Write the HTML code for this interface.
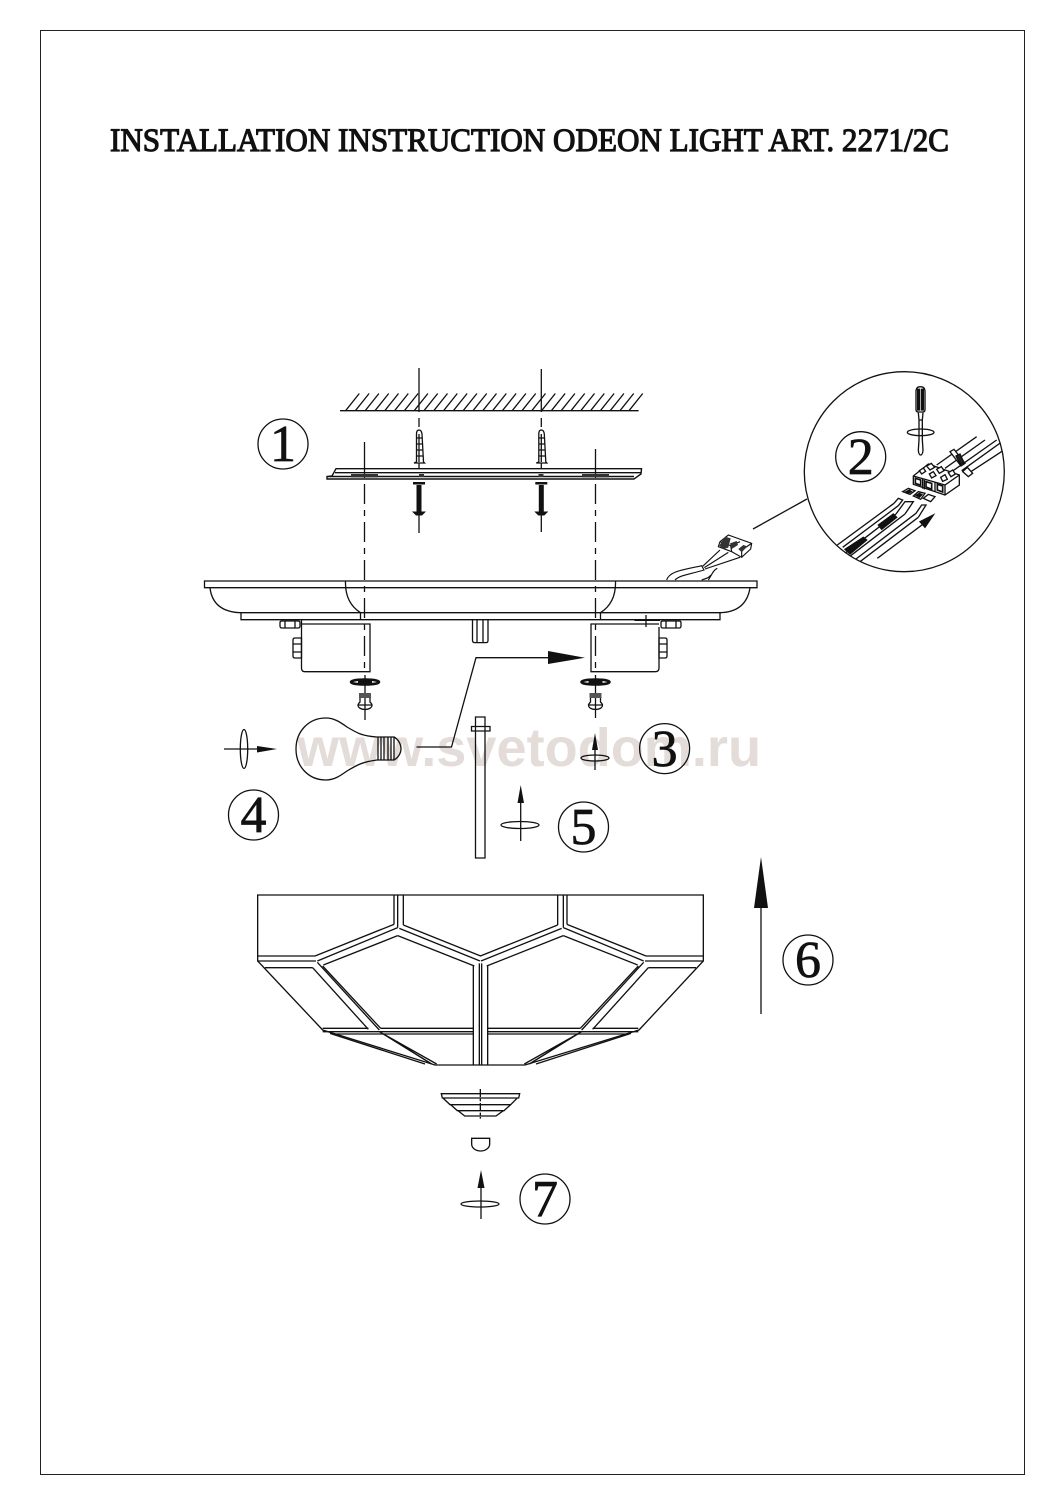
<!DOCTYPE html>
<html><head><meta charset="utf-8"><style>
html,body{margin:0;padding:0;background:#fff}
svg{display:block}
.l{fill:none;stroke:#111;stroke-width:1.3}
.n{font:52px "Liberation Serif",serif;fill:#111;stroke:#111;stroke-width:.7;text-anchor:middle}
</style></head><body>
<svg width="1061" height="1500" viewBox="0 0 1061 1500" xmlns="http://www.w3.org/2000/svg">
<defs><clipPath id="c"><circle cx="904.3" cy="471.7" r="100"/></clipPath></defs>
<rect x="40.5" y="30.5" width="984" height="1444" fill="none" stroke="#222" stroke-width="1"/>
<text x="110" y="151" textLength="839" lengthAdjust="spacingAndGlyphs" style="font:33px 'Liberation Serif',serif;fill:#111;stroke:#111;stroke-width:1.2">INSTALLATION INSTRUCTION ODEON LIGHT ART. 2271/2C</text>
<text x="297" y="766" textLength="464" lengthAdjust="spacingAndGlyphs" style="font:bold 54px 'Liberation Sans',sans-serif;fill:#e3dcd8">www.svetodom.ru</text>

<!-- ceiling -->
<g class="l">
<path d="M340 410.7H638.6"/>
<path d="M345.6 410.7L359.3 393.5M355.4 410.7L369.1 393.5M365.2 410.7L378.9 393.5M375 410.7L388.7 393.5M384.8 410.7L398.5 393.5M394.6 410.7L408.3 393.5M404.4 410.7L418.1 393.5M414.2 410.7L427.9 393.5M424 410.7L437.7 393.5M433.8 410.7L447.5 393.5M443.6 410.7L457.3 393.5M453.4 410.7L467.1 393.5M463.2 410.7L476.9 393.5M473 410.7L486.7 393.5M482.800 410.7L496.5 393.5M492.6 410.7L506.3 393.5M502.4 410.7L516.1 393.5M512.2 410.7L525.9 393.5M522 410.7L535.7 393.5M531.8 410.7L545.5 393.5M541.6 410.7L555.3 393.5M551.4 410.7L565.1 393.5M561.2 410.7L574.9 393.5M571 410.7L584.7 393.5M580.8 410.7L594.5 393.5M590.6 410.7L604.3 393.5M600.4 410.7L614.1 393.5M610.2 410.7L623.9 393.5M620 410.7L633.7 393.5M629 410.7L642.7 393.5"/>
<path d="M419 368V412M541.3 369V412"/>
<path d="M419 418V427M419 463V468M541.3 418V427M541.3 463V468M419 515V533M541.3 515V532"/>
<path d="M364.5 442V478"/><path d="M595.5 449V478"/>
<path d="M364.5 484V670M595.5 484V670" stroke-dasharray="20 6 6 6"/>
<!-- plate -->
<path d="M336 468.7H641.5L641 474L634 479H327V476.5L332 476ZM335 472.7H641M328 476.5H634" stroke-width="1.4"/>
</g>
<rect x="351" y="474" width="27" height="3.4" fill="#333"/><rect x="582" y="474" width="27" height="3.4" fill="#333"/>
<rect x="419" y="474" width="5" height="3" fill="#333"/><rect x="538.5" y="474" width="5" height="3" fill="#333"/>
<!-- anchors + screws -->
<g>
<path class="l" d="M416.500 462V434Q416.500 430 419 430Q421.500 430 422 434L423.500 462L424.500 463H414ZM416 438H422M416 444H423M416 450H423M416 456H423.500M419 434V462"/>
<path d="M413 482H425V484.500H413ZM416.500 485H421.500V512H416.500ZM412 511.500H426L422 515.500H416Z" fill="#111"/>
</g>
<g transform="translate(122.300 0)"><path class="l" d="M416.500 462V434Q416.500 430 419 430Q421.500 430 422 434L423.500 462L424.500 463H414ZM416 438H422M416 444H423M416 450H423M416 456H423.500M419 434V462"/>
<path d="M413 482H425V484.500H413ZM416.500 485H421.500V512H416.500ZM412 511.500H426L422 515.500H416Z" fill="#111"/></g>

<!-- body -->
<g class="l" stroke-width="1.400">
<path d="M204.500 581H757V587.700H204.500Z"/>
<path d="M210 588Q213 612 241 612.700M750 588Q746 612 720 612.700"/>
<path d="M241 612.700H720V619.700H241Z"/>
<path d="M345.500 581C345 596 350 606 360.500 612.700V619.700M615.500 581C616 596 611 606 600.500 612.700V619.700"/>
<path d="M301.500 620V668Q301.500 671.700 305 671.700H370V624H301.500M659 627V668Q659 671.700 655 671.700H591V624H659"/>
<path d="M280 622.500Q280 621 282 621H298Q300 621 300 622.500V626Q300 628 298 628H282Q280 628 280 626ZM285 621V628M295 621V628"/>
<path d="M661 622.500Q661 621 663 621H679Q681 621 681 622.500V626Q681 628 679 628H663Q661 628 661 626ZM666 621V628M676 621V628"/>
<path d="M293 640Q293 638 295 638H301.500V658H295Q293 658 293 656ZM293 644H301M293 652H301"/>
<path d="M659 638H665Q667 638 667 640V656Q667 658 665 658H659ZM659 644H667M659 652H667"/>
<path d="M634.500 620.300H660M646 615V627"/>
<path d="M472.500 620V640.500Q472.500 642.600 475 642.600H486Q488 642.600 488 640.500V620M477 620V642M483 620V642"/>
</g>
<!-- sockets -->
<g><ellipse cx="365" cy="682" rx="14" ry="2.500" fill="none" stroke="#111" stroke-width="2.600"/><path d="M358 682H372" stroke="#111" stroke-width="3"/>
<path class="l" d="M365 675V720"/>
<path d="M359 693H371V698H359Z" fill="#555"/><path class="l" d="M360 698V702Q358 704 358 705C358 711 372 711 372 705Q372 704 370 702V698M358 705H372"/></g>
<g transform="translate(230.500 0)"><ellipse cx="365" cy="682" rx="14" ry="2.500" fill="none" stroke="#111" stroke-width="2.600"/><path d="M358 682H372" stroke="#111" stroke-width="3"/>
<path class="l" d="M365 675V718"/>
<path d="M359 693H371V698H359Z" fill="#555"/><path class="l" d="M360 698V702Q358 704 358 705C358 711 372 711 372 705Q372 704 370 702V698M358 705H372"/></g>

<!-- bulb -->
<g class="l">
<path d="M377 737C362 736 357 733 347 727C340 722 334 718 326 718C308 718 296 732 296 749C296 766 308 780 326 780C334 780 340 776 347 771C357 765 362 762 377 760L394 760C398 758 401 753 401 749C401 744 398 739 394 737Z"/>
<path d="M378 737V760M381 737V760M384 737V760M388 737V760M391 737V760M394 737V760"/>
<path d="M416.500 747H451.500L476 657.700H550"/>
<path d="M475.500 717H485V858H475.500ZM471.500 726.500H490V731H471.500Z"/>
<ellipse cx="244" cy="749" rx="3.700" ry="19.500"/>
<path d="M224 749H258"/>
<ellipse cx="595" cy="758" rx="14" ry="3"/><path d="M595 740V770"/>
<ellipse cx="520" cy="825" rx="19" ry="3.500"/><path d="M520.700 795V841"/>
<path d="M761 900V1014"/>
<ellipse cx="480" cy="1204" rx="19" ry="3"/><path d="M481 1180V1219"/>
</g>
<path d="M548 651L585 657.700L548 664Z" fill="#111"/>
<path d="M257 746L277 749L257 752.500Z" fill="#111"/>
<path d="M595 733L598 750H592Z" fill="#111"/>
<path d="M520.700 785L524 803H517.500Z" fill="#111"/>
<path d="M761 857L768 908H754Z" fill="#111"/>
<path d="M481 1170L484.500 1188H477.500Z" fill="#111"/>

<!-- wires at junction box -->
<g transform="translate(660 525) scale(.33333)" fill="none" stroke="#111" stroke-width="3.500">
<path d="M20 165C28 138 70 135 125 122L132 135C90 148 60 150 45 165"/>
<path d="M128 124L180 75M133 128L205 82M135 132L240 97M145 165C155 150 160 135 172 130M125 165C140 160 148 158 152 150"/>
<path d="M175 65L180 50L205 30L275 55L272 72L245 97L215 80Z" fill="#fff"/>
<path d="M180 50L212 62L240 50M212 62L215 80M245 75L245 97M245 75L275 55"/>
<path d="M178 62L195 35L212 40L205 68L190 72ZM210 55L230 48L234 60L215 72ZM235 72L250 60L262 64L245 82Z" fill="#333" stroke="none"/>
</g>

<!-- lamp shade -->
<g transform="translate(240 880) scale(.33333)" fill="none" stroke="#111" stroke-width="4">
<path d="M53 45H1390V243L1197 450L855 555H585L248 450L53 243Z"/>
<g>
<path d="M53 228H225M53 243H228M75 263H218"/>
<path d="M462 45V133M473 45V143M490 45V135"/>
<path d="M462 133L225 228M473 143L232 243M473 167L250 255"/>
<path d="M490 135L722 228M478 145L720 243M473 167L703 258"/>
<path d="M218 263L385 448M232 247L418 450M248 258L422 445"/>
<path d="M248 445H385M422 445H700M248 455H700M280 462H700"/>
<path d="M270 460L555 552M418 455L590 552M430 462L575 552"/>
<path d="M700 258V555M718 250V555"/>
</g>
<g transform="translate(1443 0) scale(-1 1)">
<path d="M53 228H225M53 243H228M75 263H218"/>
<path d="M462 45V133M473 45V143M490 45V135"/>
<path d="M462 133L225 228M473 143L232 243M473 167L250 255"/>
<path d="M490 135L722 228M478 145L720 243M473 167L703 258"/>
<path d="M218 263L385 448M232 247L418 450M248 258L422 445"/>
<path d="M248 445H385M422 445H700M248 455H700M280 462H700"/>
<path d="M270 460L555 552M418 455L590 552M430 462L575 552"/>
<path d="M700 258V555M718 250V555"/>
</g>
</g>

<!-- finial -->
<g transform="translate(420 1070) scale(.33333)" fill="none" stroke="#111" stroke-width="4">
<path d="M64 71H299L296 84H67ZM70 85L90 104H272L291 85M92 104L112 122H252L272 104M114 122L134 138H228L250 122"/>
<path d="M181 57V146" stroke-dasharray="24 5 8 5"/>
<path d="M155 205H209V222C209 235 195 243 182 243C168 243 155 235 155 222Z"/>
</g>

<!-- detail circle -->
<path class="l" d="M753 529L807 499"/>
<circle cx="904.300" cy="471.700" r="100" class="l" stroke-width="1.400"/>
<g transform="translate(790 370) scale(.33333)" fill="none" stroke="#111" stroke-width="4">
<path d="M378 65Q378 50 391 50Q405 50 405 65V118Q405 126 398 126H385Q378 126 378 118Z" fill="#fff"/>
<path d="M383 58H389V120H383ZM395 58H400V120H395Z" fill="#111"/>
<path d="M385 128L387 150H397L399 128M387 150V210L385 240Q386 255 392 255Q398 255 399 240L397 210V150"/>
<ellipse cx="392" cy="187" rx="40" ry="10"/>
</g>
<g clip-path="url(#c)">
<g transform="translate(890 440) scale(.33333)" fill="none" stroke="#111" stroke-width="4">
<path d="M140 75L260 -10M165 85L285 0M185 95L320 0M215 92L350 -5M235 100L365 15"/>
<path d="M180 35L192 28L225 70L213 78Z" fill="#fff"/><path d="M198 48L210 42L222 68L212 74Z" fill="#222"/>
<path d="M218 95L232 82L248 100L235 110Z" fill="#fff"/>
<path d="M70 108L115 72L208 105V135L165 165L70 133Z" fill="#fff"/>
<path d="M70 108L165 135L208 105M165 135V165M98 116V146M103 120V148M135 125V155"/>
<path d="M76 115L92 120V136L76 130ZM108 125L125 130V148L108 141ZM142 133L158 138V156L142 150Z" stroke-width="5"/>
<path d="M88 92L100 84L107 94L95 102ZM110 78L124 70L134 82L120 90ZM118 102L130 95L138 107L125 114ZM140 88L154 80L162 92L148 100ZM152 112L165 104L172 118L158 124ZM175 98L188 90L196 102L183 110Z" fill="#fff"/>
<path d="M38 155L55 145L75 152L60 163ZM70 168L85 155L105 160L92 178ZM100 175L115 163L135 170L122 185Z" fill="#fff"/>
<path d="M48 155L58 150L64 155L54 160ZM78 166L88 160L96 164L88 172Z" fill="#111"/>
</g>
<g transform="translate(830 490) scale(.33333)" fill="none" stroke="#111" stroke-width="4">
<path d="M22 165L192 40M38 172L205 47M45 190L198 72M62 197L225 72M78 207L258 70M90 215L265 82"/>
<path d="M192 40L205 25L218 30L205 47M198 72L225 35L250 35L225 72M258 70L275 45L288 45L265 82"/>
<path d="M45 178L100 142L110 150L60 192ZM145 105L190 72L200 82L155 118Z" fill="#111"/>
<path d="M142 205L285 98"/>
<path d="M310 75L270 95L285 112Z" fill="#111"/>
</g>
</g>

<!-- numbers -->
<g class="l" stroke-width="1.300">
<circle cx="283" cy="444" r="25"/><circle cx="860.700" cy="456.700" r="25"/><circle cx="664.600" cy="748.600" r="25"/>
<circle cx="253.500" cy="815" r="25"/><circle cx="583.500" cy="827" r="25"/><circle cx="808" cy="960" r="25"/><circle cx="545" cy="1199" r="25"/>
</g>
<text class="n" x="283" y="461">1</text><text class="n" x="860.700" y="474">2</text><text class="n" x="664.600" y="766">3</text>
<text class="n" x="253.500" y="832">4</text><text class="n" x="583.500" y="844">5</text><text class="n" x="808" y="977">6</text><text class="n" x="545" y="1216">7</text>
</svg>
</body></html>
